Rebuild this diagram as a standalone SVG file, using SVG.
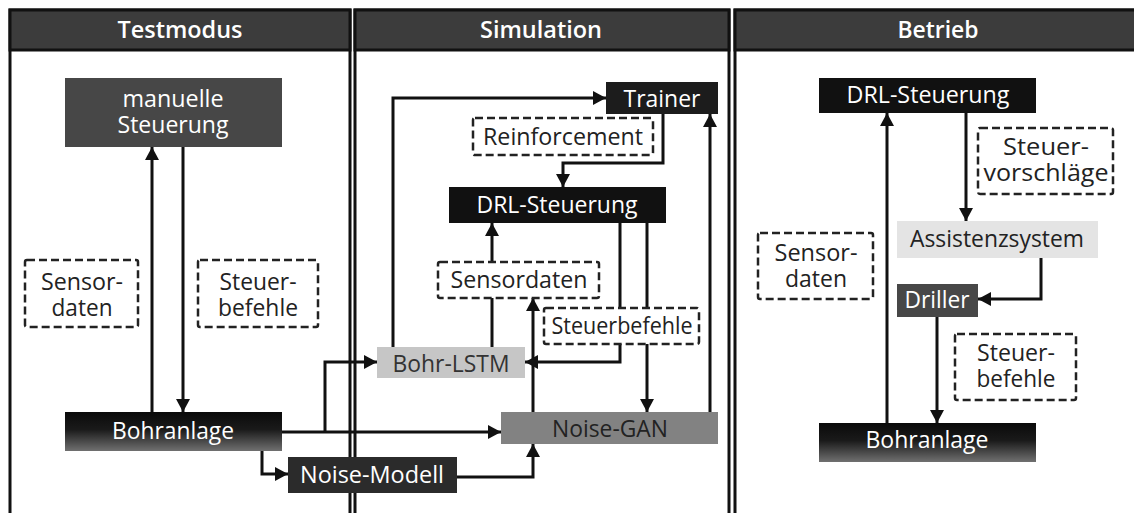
<svg xmlns="http://www.w3.org/2000/svg" width="1134" height="513" viewBox="0 0 1134 513">
<defs>
<marker id="ah" markerUnits="userSpaceOnUse" markerWidth="14" markerHeight="14" refX="13" refY="7" orient="auto">
<path d="M0,0 L13,7 L0,14 z" fill="#111"/>
</marker>
<linearGradient id="gBohr" x1="0" y1="0" x2="0" y2="1">
<stop offset="0" stop-color="#0a0a0a"/>
<stop offset="0.45" stop-color="#1a1a1a"/>
<stop offset="1" stop-color="#707070"/>
</linearGradient>
</defs>
<style>
text{font-family:"Open Sans","Noto Sans","DejaVu Sans",sans-serif;font-size:24px;text-anchor:middle}
.hdr{font-weight:600;fill:#fff;font-size:24px}
.w{fill:#fff}
.d{fill:#222}
.panel{fill:#fff;stroke:#111;stroke-width:3}
.head{fill:#3c3c3c;stroke:#111;stroke-width:3}
.lbl{fill:#fff;stroke:#222;stroke-width:2.5;stroke-dasharray:8 4}
.con{fill:none;stroke:#111;stroke-width:3}
.arr{marker-end:url(#ah)}
</style>
<rect width="1134" height="513" fill="#fff"/>

<g id="panels">
<g id="panel-testmodus">
<rect class="panel" x="10" y="10" width="340" height="520"/>
<rect class="head" x="10" y="10" width="340" height="40"/>
<text class="hdr" x="180" y="38" textLength="125" lengthAdjust="spacingAndGlyphs">Testmodus</text>
</g>
<g id="panel-simulation">
<rect class="panel" x="355" y="10" width="374" height="520"/>
<rect class="head" x="355" y="10" width="374" height="40"/>
<text class="hdr" x="541" y="38" textLength="122" lengthAdjust="spacingAndGlyphs">Simulation</text>
</g>
<g id="panel-betrieb">
<rect class="panel" x="735" y="10" width="406" height="520"/>
<rect class="head" x="735" y="10" width="406" height="40"/>
<text class="hdr" x="938" y="38" textLength="81" lengthAdjust="spacingAndGlyphs">Betrieb</text>
</g>
</g>

<g id="connectors">
<!-- Testmodus -->
<path class="con arr" d="M152,412 V147"/>
<path class="con arr" d="M183,147 V412"/>
<path class="con arr" d="M282,432 H501"/>
<path class="con arr" d="M325,432 V362 H377"/>
<path class="con arr" d="M262,451 V474 H288"/>
<!-- Simulation -->
<path class="con arr" d="M457,477 H533 V444"/>
<path class="con arr" d="M533,412 V298"/>
<path class="con arr" d="M620,223 V362 H525"/>
<path class="con arr" d="M647,223 V412"/>
<path class="con arr" d="M492,347 V223"/>
<path class="con arr" d="M393,347 V98 H606"/>
<path class="con arr" d="M710,412 V114"/>
<path class="con arr" d="M663,114 V163 H563 V187"/>
<!-- Betrieb -->
<path class="con arr" d="M887,423 V113"/>
<path class="con arr" d="M966,113 V221"/>
<path class="con arr" d="M1041,258 V299 H978"/>
<path class="con arr" d="M937,317 V423"/>
</g>

<g id="manuelle-steuerung">
<rect x="65" y="78" width="217" height="69" fill="#474747"/>
<text class="w" x="173" y="107" textLength="101" lengthAdjust="spacingAndGlyphs">manuelle</text>
<text class="w" x="173" y="133" textLength="111" lengthAdjust="spacingAndGlyphs">Steuerung</text>
</g>
<g id="label-sensordaten-test">
<rect class="lbl" x="25" y="260" width="113" height="67" rx="2"/>
<text class="d" x="82" y="290" textLength="82" lengthAdjust="spacingAndGlyphs">Sensor-</text>
<text class="d" x="82" y="316" textLength="61" lengthAdjust="spacingAndGlyphs">daten</text>
</g>
<g id="label-steuerbefehle-test">
<rect class="lbl" x="198" y="260" width="120" height="67" rx="2"/>
<text class="d" x="258" y="290" textLength="77" lengthAdjust="spacingAndGlyphs">Steuer-</text>
<text class="d" x="258" y="316" textLength="80" lengthAdjust="spacingAndGlyphs">befehle</text>
</g>
<g id="bohranlage-test">
<rect x="65" y="412" width="217" height="39" fill="url(#gBohr)"/>
<text class="w" x="173" y="439" textLength="122" lengthAdjust="spacingAndGlyphs">Bohranlage</text>
</g>
<g id="noise-modell">
<rect x="288" y="457" width="169" height="36" fill="#2b2b2b"/>
<text class="w" x="372" y="483" textLength="144" lengthAdjust="spacingAndGlyphs">Noise-Modell</text>
</g>

<g id="trainer">
<rect x="606" y="82" width="112" height="32" fill="#1c1c1c"/>
<text class="w" x="662" y="107" textLength="77" lengthAdjust="spacingAndGlyphs">Trainer</text>
</g>
<g id="label-reinforcement">
<rect class="lbl" x="473" y="118" width="180" height="37" rx="2"/>
<text class="d" x="563" y="145" textLength="160" lengthAdjust="spacingAndGlyphs">Reinforcement</text>
</g>
<g id="drl-steuerung-sim">
<rect x="449" y="187" width="217" height="36" fill="#111"/>
<text class="w" x="557" y="213" textLength="161" lengthAdjust="spacingAndGlyphs">DRL-Steuerung</text>
</g>
<g id="label-sensordaten-sim">
<rect class="lbl" x="438" y="262" width="161" height="36" rx="2"/>
<text class="d" x="519" y="288" textLength="137" lengthAdjust="spacingAndGlyphs">Sensordaten</text>
</g>
<g id="label-steuerbefehle-sim">
<rect class="lbl" x="544" y="308" width="155" height="36" rx="2"/>
<text class="d" x="622" y="334" textLength="141" lengthAdjust="spacingAndGlyphs">Steuerbefehle</text>
</g>
<g id="bohr-lstm">
<rect x="377" y="347" width="148" height="31" fill="#c6c6c6"/>
<text x="451" y="372" fill="#333" textLength="117" lengthAdjust="spacingAndGlyphs">Bohr-LSTM</text>
</g>
<g id="noise-gan">
<rect x="501" y="412" width="217" height="32" fill="#828282"/>
<text class="d" x="610" y="437" textLength="116" lengthAdjust="spacingAndGlyphs">Noise-GAN</text>
</g>

<g id="drl-steuerung-betrieb">
<rect x="819" y="78" width="217" height="35" fill="#111"/>
<text class="w" x="928" y="103" textLength="163" lengthAdjust="spacingAndGlyphs">DRL-Steuerung</text>
</g>
<g id="label-steuervorschlaege">
<rect class="lbl" x="978" y="128" width="135" height="66" rx="2"/>
<text class="d" x="1046" y="155" textLength="86" lengthAdjust="spacingAndGlyphs">Steuer-</text>
<text class="d" x="1046" y="181" textLength="125" lengthAdjust="spacingAndGlyphs">vorschläge</text>
</g>
<g id="assistenzsystem">
<rect x="897" y="221" width="201" height="37" fill="#e4e4e4"/>
<text class="d" x="997" y="247" textLength="174" lengthAdjust="spacingAndGlyphs">Assistenzsystem</text>
</g>
<g id="label-sensordaten-betrieb">
<rect class="lbl" x="758" y="233" width="115" height="66" rx="2"/>
<text class="d" x="816" y="261" textLength="83" lengthAdjust="spacingAndGlyphs">Sensor-</text>
<text class="d" x="816" y="287" textLength="62" lengthAdjust="spacingAndGlyphs">daten</text>
</g>
<g id="driller">
<rect x="897" y="284" width="81" height="33" fill="#474747"/>
<text class="w" x="937" y="308" textLength="65" lengthAdjust="spacingAndGlyphs">Driller</text>
</g>
<g id="label-steuerbefehle-betrieb">
<rect class="lbl" x="955" y="334" width="121" height="66" rx="2"/>
<text class="d" x="1016" y="361" textLength="78" lengthAdjust="spacingAndGlyphs">Steuer-</text>
<text class="d" x="1016" y="387" textLength="79" lengthAdjust="spacingAndGlyphs">befehle</text>
</g>
<g id="bohranlage-betrieb">
<rect x="819" y="423" width="217" height="39" fill="url(#gBohr)"/>
<text class="w" x="927" y="448" textLength="123" lengthAdjust="spacingAndGlyphs">Bohranlage</text>
</g>
</svg>
